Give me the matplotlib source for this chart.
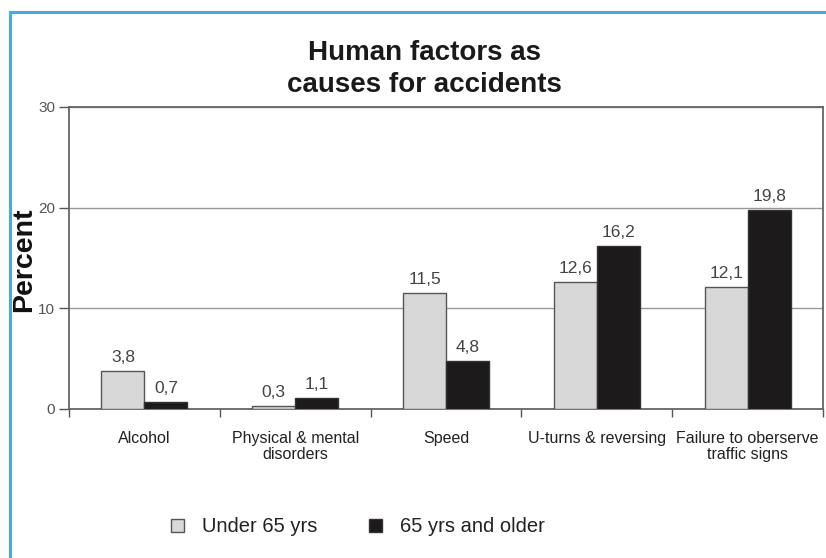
import matplotlib
matplotlib.use("Agg")
import matplotlib.pyplot as plt
from matplotlib.patches import Rectangle
import numpy as np

categories = ["Alcohol", "Physical & mental\ndisorders", "Speed",
              "U-turns & reversing", "Failure to oberserve\ntraffic signs"]
under65 = [3.8, 0.3, 11.5, 12.6, 12.1]
over65 = [0.7, 1.1, 4.8, 16.2, 19.8]
under_labels = ["3,8", "0,3", "11,5", "12,6", "12,1"]
over_labels = ["0,7", "1,1", "4,8", "16,2", "19,8"]
series_names = ["Under 65 yrs", "65 yrs and older"]
yticks = [0, 10, 20, 30]

W, H = 826, 558
fig = plt.figure(figsize=(W / 100, H / 100), dpi=100)
plt.rcParams['font.family'] = ['Liberation Sans', 'DejaVu Sans']

# blue frame
fig.patches.append(Rectangle((10 / W, -0.1), 1.2, 1 - 12 / H + 0.1, transform=fig.transFigure,
                             fill=False, edgecolor="#4ba8e0", linewidth=2.2))

ax = fig.add_axes([69 / W, 1 - 409 / H, (823 - 69) / W, (409 - 107) / H])
x = np.arange(len(categories))
bw = 0.285
b1 = ax.bar(x - bw / 2, under65, bw, color="#d8d8d8", edgecolor="#555555", linewidth=1.0,
            label=series_names[0], zorder=3)
b2 = ax.bar(x + bw / 2, over65, bw, color="#1c1a1a", edgecolor="#333333", linewidth=1.0,
            label=series_names[1], zorder=3)
for xi, v, s in zip(x, under65, under_labels):
    ax.text(xi - bw / 2, v + 0.6, s, ha="center", va="bottom", fontsize=12.5, color="#444444")
for xi, v, s in zip(x, over65, over_labels):
    ax.text(xi + bw / 2, v + 0.6, s, ha="center", va="bottom", fontsize=12.5, color="#444444")

ax.set_xlim(-0.5, len(categories) - 0.5)
ax.set_ylim(0, 30)
ax.set_yticks(yticks)
ax.set_yticklabels([str(t) for t in yticks], fontsize=11, color="#555555")
ax.yaxis.grid(True, color="#999999", linewidth=1.0, zorder=0)
ax.set_axisbelow(True)
ax.set_xticks(x)
ax.set_xticklabels(categories, fontsize=11.5, color="#222222", linespacing=1.05)
ax.tick_params(axis="x", length=0, pad=16)
ax.set_xticks(np.arange(-0.5, len(categories), 1.0), minor=True)
ax.tick_params(axis="x", which="minor", length=6, color="#555555", width=1)
ax.tick_params(axis="y", length=7, color="#555555", width=1, pad=3)
for sp in ax.spines.values():
    sp.set_color("#666666")
    sp.set_linewidth(1.3)

fig.text(24 / W, 1 - 260 / H, "Percent", rotation=90, ha="center", va="center",
         fontsize=20.5, fontweight="bold", color="#111111")

fig.text(0.514, 1 - 69 / H, "Human factors as\ncauses for accidents", ha="center", va="center",
         fontsize=20, fontweight="bold", color="#1a1a1a", linespacing=1.3)

fig.legend(handles=[b1, b2], labels=series_names, loc="center", bbox_to_anchor=(358 / W, 1 - 527 / H),
           ncol=2, frameon=False, fontsize=14.5, handlelength=0.6, handleheight=0.6,
           columnspacing=2.6, handletextpad=0.9, labelcolor="#222222")

fig.savefig("out.png", dpi=100, facecolor="white")
